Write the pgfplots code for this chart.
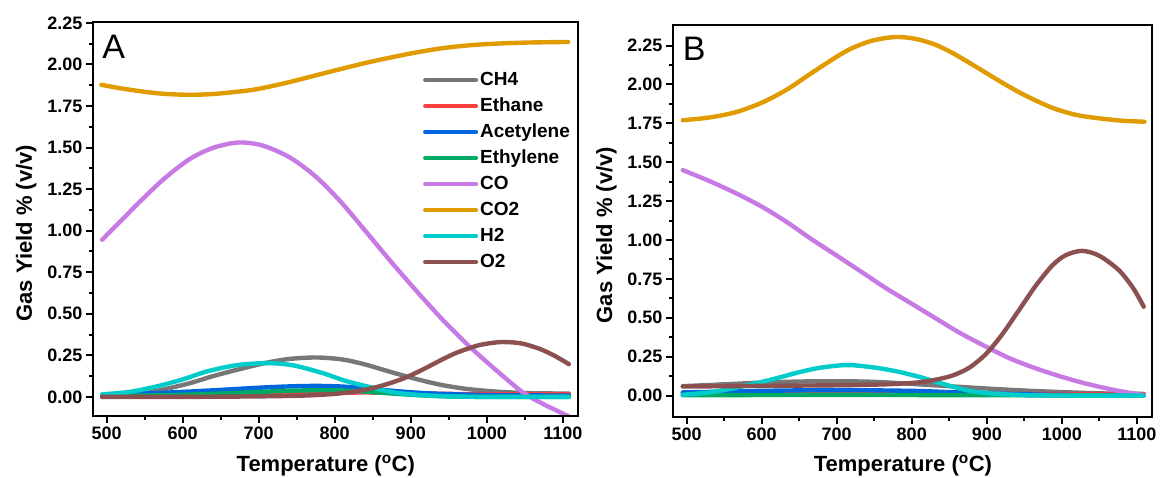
\documentclass[border=0pt]{standalone}
\usepackage{fontspec}
\setmainfont{Liberation Sans}
\usepackage{pgfplots}
\pgfplotsset{compat=1.18}

\definecolor{cch4}{RGB}{119,119,119}
\definecolor{cethane}{RGB}{250,64,64}
\definecolor{cacet}{RGB}{0,102,221}
\definecolor{cethyl}{RGB}{0,170,100}
\definecolor{cco}{RGB}{200,122,228}
\definecolor{cco2}{RGB}{224,155,0}
\definecolor{ch2}{RGB}{0,204,204}
\definecolor{co2g}{RGB}{140,80,80}

\pgfplotsset{
  gasax/.style={
    scale only axis, anchor=south west,
    axis line style={line width=2.6pt},
    xmin=482, xmax=1120,
    xtick={500,600,700,800,900,1000,1100}, minor x tick num=1,
    ytick={0,0.25,0.5,0.75,1,1.25,1.5,1.75,2,2.25}, minor y tick num=1,
    tick align=outside, tick pos=left,
    major tick length=7pt, minor tick length=4pt,
    every tick/.append style={line width=2pt, black},
    /pgf/number format/assume math mode=true,
    ticklabel style={font=\bfseries\fontsize{18}{18}\selectfont},
    xticklabel style={/pgf/number format/1000 sep={}},
    yticklabel style={/pgf/number format/.cd, fixed, fixed zerofill, precision=2},
    xlabel={Temperature (\textsuperscript{o}C)},
    ylabel={Gas Yield \% (v/v)},
    label style={font=\bfseries\fontsize{22}{22}\selectfont},
    every axis plot/.append style={line width=4.4pt, smooth, line cap=round, no markers},
  }
}

\begin{document}
\begin{tikzpicture}
\useasboundingbox (0pt,0pt) rectangle (1163pt,477pt);

% ---------- panel A ----------
\begin{axis}[gasax,
    at={(93pt,61pt)}, width=485pt, height=394pt,
    ymin=-0.115, ymax=2.255,
    xlabel style={at={(axis description cs:0.48,-0.140)}, anchor=base},
    ylabel style={at={(axis description cs:-0.1258,0.464)}, anchor=base},
    legend style={draw=none, fill=none, at={(0.674,0.891)}, anchor=north west,
      font=\bfseries\fontsize{19}{19}\selectfont, row sep=0pt,
      nodes={text height=14pt, text depth=4pt, inner ysep=4pt}},
    legend cell align=left,
    legend image code/.code={\draw[#1, line width=4pt, line cap=round] (0pt,0pt) -- (51pt,0pt);},
]
% CH4
\addplot[cch4] coordinates {(494,0.0) (530,0.01) (570,0.04) (609,0.082) (640,0.125) (675,0.167) (710,0.205) (740,0.228) (776,0.237) (810,0.225) (840,0.195) (872,0.152) (905,0.11) (938,0.074) (970,0.05) (1000,0.036) (1026,0.028) (1060,0.022) (1108,0.02)};
% Ethane
\addplot[cethane] coordinates {(494,0.012) (600,0.015) (700,0.018) (800,0.025) (850,0.026) (900,0.022) (950,0.018) (1000,0.016) (1108,0.016)};
% Acetylene
\addplot[cacet] coordinates {(494,0.01) (550,0.02) (600,0.03) (650,0.042) (700,0.055) (740,0.063) (776,0.066) (810,0.062) (850,0.048) (880,0.035) (920,0.022) (970,0.014) (1020,0.01) (1108,0.008)};
% Ethylene
\addplot[cethyl] coordinates {(494,0.005) (550,0.008) (600,0.013) (650,0.02) (700,0.03) (750,0.038) (790,0.04) (830,0.035) (870,0.022) (910,0.01) (950,0.003) (1000,0.0) (1108,0.0)};
% CO
\addplot[cco] coordinates {(494,0.945) (520,1.065) (545,1.18) (575,1.31) (609,1.43) (640,1.498) (673,1.530) (705,1.512) (741,1.44) (775,1.325) (807,1.178) (840,1.00) (872,0.824) (905,0.65) (938,0.483) (960,0.38) (982,0.283) (1015,0.15) (1048,0.025) (1075,-0.045) (1090,-0.078) (1109,-0.12)};
% CO2
\addplot[cco2] coordinates {(493,1.877) (520,1.855) (550,1.835) (575,1.823) (609,1.817) (640,1.822) (675,1.837) (700,1.853) (740,1.893) (770,1.928) (806,1.970) (840,2.008) (872,2.040) (905,2.070) (938,2.095) (970,2.112) (1004,2.123) (1050,2.131) (1107,2.135)};
% H2
\addplot[ch2] coordinates {(494,0.015) (530,0.03) (565,0.062) (600,0.105) (631,0.152) (670,0.19) (710,0.203) (745,0.19) (785,0.142) (815,0.095) (850,0.055) (880,0.025) (916,0.01) (950,0.003) (1000,0.0) (1108,0.0)};
% O2
\addplot[co2g] coordinates {(494,0.0) (600,0.0) (700,0.003) (760,0.008) (800,0.018) (830,0.035) (860,0.065) (890,0.11) (916,0.165) (940,0.222) (960,0.265) (985,0.305) (1000,0.32) (1020,0.33) (1045,0.322) (1070,0.288) (1090,0.245) (1108,0.197)};
\legend{CH4, Ethane, Acetylene, Ethylene, CO, CO2, H2, O2}
\draw[line width=2.6pt] (rel axis cs:0,0) rectangle (rel axis cs:1,1);
\node[anchor=north west, inner sep=0pt, font=\fontsize{34}{34}\selectfont] at (rel axis cs:0.019,0.967) {A};
\end{axis}

% ---------- panel B ----------
\begin{axis}[gasax,
    at={(673pt,60pt)}, width=479pt, height=392pt,
    ymin=-0.138, ymax=2.382,
    xlabel style={at={(axis description cs:0.48,-0.138)}, anchor=base},
    ylabel style={at={(axis description cs:-0.1273,0.464)}, anchor=base},
]
% CH4
\addplot[cch4] coordinates {(495,0.06) (550,0.072) (600,0.083) (650,0.09) (700,0.092) (750,0.088) (800,0.075) (850,0.06) (900,0.045) (950,0.032) (1000,0.022) (1050,0.014) (1109,0.01)};
% Ethane
\addplot[cethane] coordinates {(495,0.01) (700,0.012) (900,0.01) (1109,0.01)};
% Acetylene
\addplot[cacet] coordinates {(495,0.02) (550,0.025) (600,0.03) (700,0.035) (800,0.03) (850,0.022) (900,0.015) (950,0.008) (1000,0.004) (1109,0.002)};
% Ethylene
\addplot[cethyl] coordinates {(495,0.002) (700,0.004) (900,0.002) (1109,0.0)};
% CO
\addplot[cco] coordinates {(495,1.449) (530,1.38) (566,1.30) (600,1.215) (633,1.117) (665,1.01) (699,0.903) (733,0.795) (766,0.689) (800,0.59) (832,0.496) (865,0.40) (899,0.314) (930,0.24) (965,0.175) (1000,0.12) (1031,0.078) (1070,0.035) (1109,0.003)};
% CO2
\addplot[cco2] coordinates {(495,1.77) (530,1.787) (566,1.822) (600,1.882) (633,1.965) (665,2.068) (699,2.175) (720,2.232) (744,2.277) (765,2.298) (783,2.305) (805,2.293) (830,2.258) (854,2.203) (885,2.115) (921,2.010) (950,1.932) (987,1.850) (1020,1.803) (1053,1.780) (1080,1.767) (1110,1.760)};
% H2
\addplot[ch2] coordinates {(495,0.005) (530,0.02) (566,0.05) (611,0.10) (650,0.15) (680,0.18) (715,0.196) (750,0.18) (780,0.155) (810,0.12) (845,0.07) (877,0.03) (910,0.012) (950,0.003) (1000,0.0) (1109,0.0)};
% O2
\addplot[co2g] coordinates {(495,0.058) (550,0.06) (600,0.062) (650,0.064) (700,0.066) (750,0.07) (780,0.075) (810,0.085) (830,0.1) (854,0.128) (877,0.18) (899,0.268) (920,0.39) (943,0.55) (965,0.705) (987,0.835) (1005,0.902) (1027,0.93) (1050,0.898) (1076,0.805) (1095,0.69) (1109,0.571)};
\draw[line width=2.6pt] (rel axis cs:0,0) rectangle (rel axis cs:1,1);
\node[anchor=north west, inner sep=0pt, font=\fontsize{34}{34}\selectfont] at (rel axis cs:0.020,0.970) {B};
\end{axis}
\end{tikzpicture}
\end{document}
